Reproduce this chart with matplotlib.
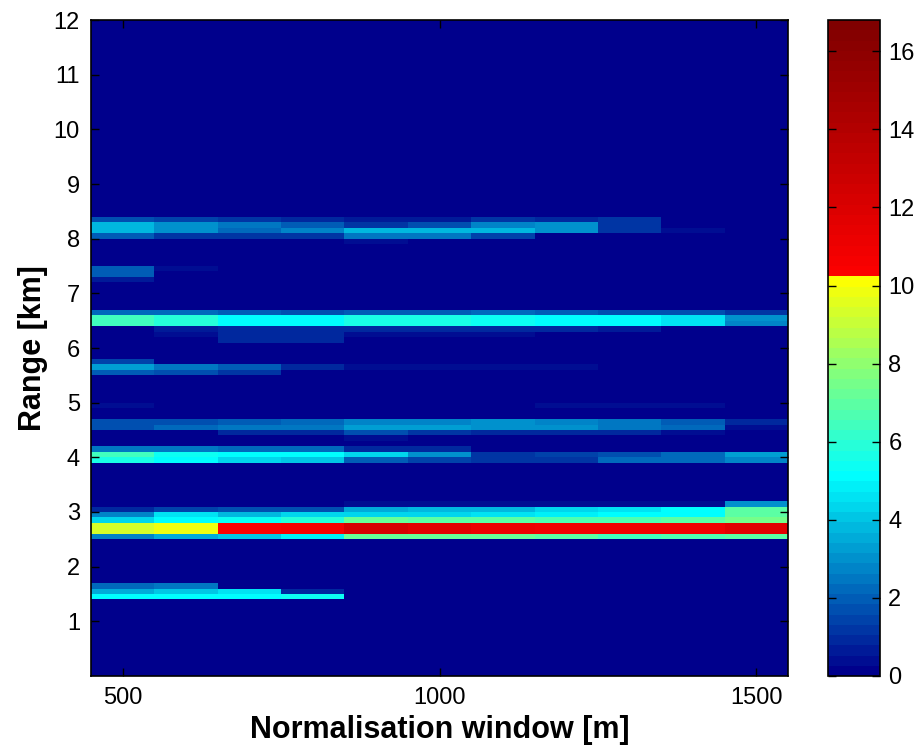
import numpy as np
import matplotlib
matplotlib.use('Agg')
import matplotlib.pyplot as plt
from matplotlib.colors import LinearSegmentedColormap, ListedColormap

plt.rcParams['font.family'] = ['Liberation Sans', 'DejaVu Sans']

# Normalisation window centres [m]
windows = [500, 600, 700, 800, 900, 1000, 1100, 1200, 1300, 1400, 1500]

# lower edge of each non-empty range cell [km] (cells are 0.1 km tall)
row_start_km = [8.3, 8.2, 8.1, 8.0, 7.9,
                7.4, 7.3, 7.2,
                6.6, 6.5, 6.4, 6.3, 6.2, 6.1,
                5.7, 5.6, 5.5,
                4.9, 4.6, 4.5, 4.4, 4.3,
                4.1, 4.0, 3.9,
                3.1, 3.0, 2.9, 2.8, 2.7, 2.6, 2.5,
                1.6, 1.5, 1.4]

# values per window for each of those cells
row_values = [
    [1.7, 1.5, 1.3, 1.0, 0.6, 0.7, 1.2, 0.9, 1.3, 0.0, 0.0],
    [3.8, 3.0, 2.5, 2.0, 1.3, 1.8, 2.7, 3.0, 1.3, 0.0, 0.0],
    [3.9, 3.0, 2.3, 2.7, 3.8, 3.9, 3.9, 3.0, 1.3, 0.5, 0.0],
    [2.0, 1.3, 1.3, 1.3, 2.5, 2.5, 1.5, 0.0, 0.0, 0.0, 0.0],
    [0.0, 0.0, 0.0, 0.0, 0.5, 0.0, 0.0, 0.0, 0.0, 0.0, 0.0],
    [2.0, 0.4, 0.0, 0.0, 0.0, 0.0, 0.0, 0.0, 0.0, 0.0, 0.0],
    [2.0, 0.0, 0.0, 0.0, 0.0, 0.0, 0.0, 0.0, 0.0, 0.0, 0.0],
    [0.6, 0.0, 0.0, 0.0, 0.0, 0.0, 0.0, 0.0, 0.0, 0.0, 0.0],
    [2.3, 2.3, 2.0, 1.6, 2.0, 2.0, 2.3, 2.0, 1.8, 1.6, 1.3],
    [6.4, 5.9, 5.1, 5.1, 5.6, 5.6, 5.3, 5.1, 5.1, 4.6, 3.0],
    [6.3, 5.8, 5.0, 5.1, 5.6, 5.6, 5.3, 5.2, 5.0, 4.6, 2.8],
    [0.0, 0.6, 1.0, 1.0, 0.8, 0.8, 0.8, 0.8, 0.6, 0.0, 0.0],
    [0.0, 0.4, 0.9, 0.9, 0.5, 0.5, 0.3, 0.0, 0.0, 0.0, 0.0],
    [0.0, 0.0, 0.8, 0.8, 0.0, 0.0, 0.0, 0.0, 0.0, 0.0, 0.0],
    [1.5, 0.0, 0.0, 0.0, 0.0, 0.0, 0.0, 0.0, 0.0, 0.0, 0.0],
    [3.3, 2.6, 2.0, 0.8, 0.5, 0.5, 0.5, 0.5, 0.0, 0.0, 0.0],
    [2.0, 1.6, 1.3, 0.0, 0.0, 0.0, 0.0, 0.0, 0.0, 0.0, 0.0],
    [0.4, 0.0, 0.0, 0.0, 0.0, 0.0, 0.0, 0.4, 0.4, 0.4, 0.0],
    [1.8, 1.8, 2.0, 2.3, 2.8, 2.8, 3.0, 2.8, 2.6, 2.0, 1.0],
    [1.8, 2.1, 2.5, 2.6, 3.3, 3.3, 3.1, 2.9, 2.6, 2.1, 0.4],
    [0.0, 0.0, 1.0, 1.0, 1.8, 1.3, 1.0, 1.0, 0.8, 0.5, 0.0],
    [0.0, 0.0, 0.0, 0.0, 0.3, 0.0, 0.0, 0.0, 0.0, 0.0, 0.0],
    [2.5, 2.4, 2.3, 2.3, 1.0, 1.0, 0.0, 0.0, 0.0, 0.0, 0.0],
    [6.3, 5.3, 5.0, 5.1, 4.3, 3.0, 1.3, 1.5, 1.8, 2.1, 3.3],
    [5.6, 5.0, 4.4, 4.1, 2.0, 1.5, 1.3, 1.3, 2.3, 2.3, 2.8],
    [0.0, 0.0, 0.0, 0.0, 0.5, 0.5, 0.5, 0.5, 0.5, 0.5, 3.0],
    [0.8, 1.5, 1.8, 1.8, 3.6, 3.8, 3.9, 4.3, 4.5, 5.0, 6.9],
    [2.8, 4.7, 3.9, 4.2, 4.3, 4.3, 4.5, 4.9, 5.0, 5.1, 6.9],
    [4.3, 5.1, 5.5, 5.8, 7.2, 6.9, 6.9, 6.8, 6.8, 6.9, 7.6],
    [9.2, 9.8, 10.4, 10.5, 12.2, 11.8, 11.2, 10.9, 10.8, 10.9, 11.8],
    [9.2, 9.8, 10.4, 10.5, 12.2, 11.8, 11.2, 10.9, 10.8, 10.9, 11.8],
    [2.8, 3.6, 4.1, 4.9, 7.2, 7.2, 7.2, 7.0, 6.5, 6.6, 6.9],
    [2.3, 2.5, 0.0, 0.0, 0.0, 0.0, 0.0, 0.0, 0.0, 0.0, 0.0],
    [3.6, 4.0, 4.6, 1.0, 0.0, 0.0, 0.0, 0.0, 0.0, 0.0, 0.0],
    [5.1, 5.2, 5.0, 5.5, 0.0, 0.0, 0.0, 0.0, 0.0, 0.0, 0.0],
]

vmax = 16.8
split = 10.2

# fill the range x window grid
dr = 0.1
n_rows = int(round(12 / dr))
z = np.zeros((n_rows, len(windows)))
for km, vals in zip(row_start_km, row_values):
    z[int(round(km / dr))] = vals

x_edges = np.concatenate([np.array(windows) - 50, [windows[-1] + 50]])
y_edges = np.arange(n_rows + 1) * dr

# dark blue -> cyan -> yellow, then jump to red -> dark red
s = split / vmax
base = LinearSegmentedColormap.from_list('custom', [
    (0.0, (0.0, 0.0, 0.55)),
    (s / 2, (0.0, 1.0, 1.0)),
    (s, (1.0, 1.0, 0.0)),
    (s + 1e-4, (1.0, 0.0, 0.0)),
    (1.0, (0.5, 0.0, 0.0)),
])
cmap = ListedColormap(base(np.linspace(0, 1, 64)))

fig = plt.figure(figsize=(9.17, 7.49), dpi=100)
ax = fig.add_axes([91 / 917, 73 / 749, 697 / 917, 656 / 749])
cax = fig.add_axes([828 / 917, 73 / 749, 52 / 917, 656 / 749])

mesh = ax.pcolormesh(x_edges, y_edges, z, cmap=cmap, vmin=0, vmax=vmax)
ax.set_xlim(450, 1550)
ax.set_ylim(0, 12)
ax.set_xticks([500, 1000, 1500])
ax.set_yticks(range(1, 13))
ax.tick_params(direction='in', length=6, width=1, labelsize=17,
               top=True, right=True, pad=8)
ax.set_xlabel('Normalisation window [m]', fontsize=22, fontweight='bold')
ax.set_ylabel('Range [km]', fontsize=22, fontweight='bold')
for sp in ax.spines.values():
    sp.set_linewidth(1.2)

cb = fig.colorbar(mesh, cax=cax)
cb.set_ticks(range(0, 17, 2))
cax.tick_params(direction='in', length=6, width=1, labelsize=17,
                left=True, right=True, pad=6)
cb.outline.set_linewidth(1.2)

fig.savefig('out.png', dpi=100)
